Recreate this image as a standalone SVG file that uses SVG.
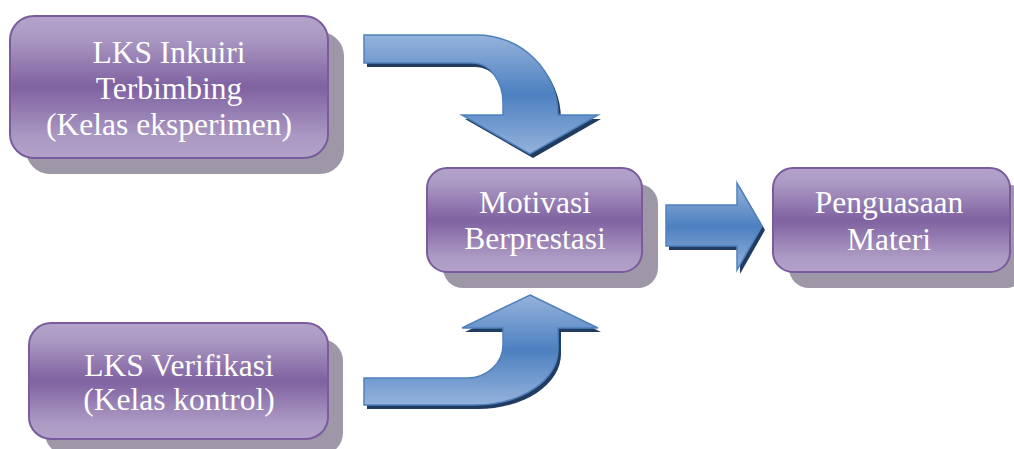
<svg xmlns="http://www.w3.org/2000/svg" width="1014" height="449" viewBox="0 0 1014 449">
  <defs>
    <linearGradient id="gPurple" x1="0" y1="0" x2="0" y2="1">
      <stop offset="0" stop-color="#b3a3c9"/>
      <stop offset="0.15" stop-color="#ab99c3"/>
      <stop offset="0.5" stop-color="#7f62a1"/>
      <stop offset="0.85" stop-color="#ab99c3"/>
      <stop offset="1" stop-color="#b2a1c8"/>
    </linearGradient>
    <linearGradient id="gBlue" x1="0" y1="0" x2="0" y2="1">
      <stop offset="0" stop-color="#95b3dc"/>
      <stop offset="0.5" stop-color="#4d80c0"/>
      <stop offset="1" stop-color="#95b3dc"/>
    </linearGradient>
  </defs>
  <style>
    .shadow { fill: #9e97a7; }
    .box { fill: url(#gPurple); stroke: #7a5c9e; stroke-width: 2; }
    .lbl { font-size: 31.5px; fill: #ffffff; text-anchor: middle; }
    .arr { fill: url(#gBlue); stroke: #4f81bd; stroke-width: 1.5; stroke-linejoin: miter; }
    .arrsh { fill: #213c60; }
  </style>
  <rect width="1014" height="449" fill="#ffffff"/>

  <g id="connectors">
    <g id="arrow-top">
      <path class="arrsh" transform="translate(3,4)" d="M364,35 L477,35 A81,80 0 0 1 558,115 L598,115 L530,154 L462,115 L503,115 L503,103 A30,40 0 0 0 473,63 L364,63 Z"/>
      <path class="arr" d="M364,35 L477,35 A81,80 0 0 1 558,115 L598,115 L530,154 L462,115 L503,115 L503,103 A30,40 0 0 0 473,63 L364,63 Z"/>
    </g>
    <g id="arrow-bottom">
      <path class="arrsh" transform="translate(3,4)" d="M530,295 L598,328 L558,328 L558,350 A83,55 0 0 1 475,405 L364,405 L364,378 L467,378 A36,33 0 0 0 503,345 L503,328 L462,328 Z"/>
      <path class="arr" d="M530,295 L598,328 L558,328 L558,350 A83,55 0 0 1 475,405 L364,405 L364,378 L467,378 A36,33 0 0 0 503,345 L503,328 L462,328 Z"/>
    </g>
    <g id="arrow-right">
      <path class="arrsh" transform="translate(3,4)" d="M666,205 L737,205 L737,183 L762,226 L737,270 L737,246 L666,246 Z"/>
      <path class="arr" d="M666,205 L737,205 L737,183 L762,226 L737,270 L737,246 L666,246 Z"/>
    </g>
  </g>

  <g font-family="'Liberation Serif', 'DejaVu Serif', serif">
  <g id="node-lks-inkuiri">
    <rect class="shadow" x="26" y="32" width="318" height="142" rx="24"/>
    <rect class="box" x="10" y="16" width="318" height="142" rx="24"/>
    <text class="lbl" x="169" y="63">LKS Inkuiri</text>
    <text class="lbl" x="169" y="99">Terbimbing</text>
    <text class="lbl" x="169" y="135">(Kelas eksperimen)</text>
  </g>

  <g id="node-motivasi">
    <rect class="shadow" x="443" y="184" width="215" height="104" rx="20"/>
    <rect class="box" x="427" y="168" width="215" height="104" rx="20"/>
    <text class="lbl" x="535" y="213">Motivasi</text>
    <text class="lbl" x="535" y="249">Berprestasi</text>
  </g>

  <g id="node-penguasaan">
    <rect class="shadow" x="789" y="184" width="237" height="104" rx="20"/>
    <rect class="box" x="773" y="168" width="237" height="104" rx="20"/>
    <text class="lbl" x="889" y="213">Penguasaan</text>
    <text class="lbl" x="889" y="250">Materi</text>
  </g>

  <g id="node-lks-verifikasi">
    <rect class="shadow" x="45" y="339" width="298" height="116" rx="22"/>
    <rect class="box" x="29" y="323" width="299" height="116" rx="22"/>
    <text class="lbl" x="179" y="376">LKS Verifikasi</text>
    <text class="lbl" x="179" y="410">(Kelas kontrol)</text>
  </g>
  </g>
</svg>
